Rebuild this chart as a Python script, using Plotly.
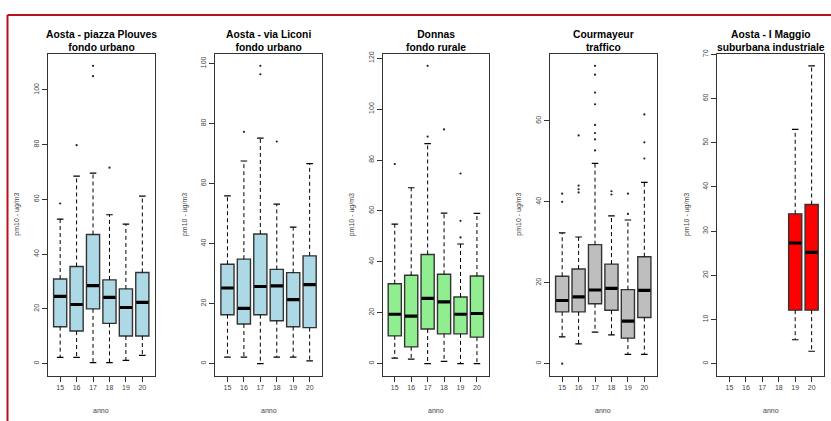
import plotly.graph_objects as go

W, H = 831, 421

years = [15, 16, 17, 18, 19, 20]
year_labels = ["15", "16", "17", "18", "19", "20"]

# --- Aosta - piazza Plouves (fondo urbano)
s1_title = "Aosta - piazza Plouves<br>fondo urbano"
s1_years = [15, 16, 17, 18, 19, 20]
s1_low = [2.3, 2.3, 0.4, 0.4, 1.2, 3.0]
s1_q1 = [13.5, 11.9, 20.0, 14.7, 10.1, 10.1]
s1_med = [24.6, 21.6, 28.5, 24.2, 20.5, 22.4]
s1_q3 = [30.9, 35.5, 47.2, 30.6, 27.3, 33.3]
s1_up = [52.8, 68.5, 69.6, 54.4, 51.0, 61.2]
s1_out_x = [15, 16, 17, 17, 18]
s1_out_y = [58.5, 79.8, 105.0, 108.8, 71.6]

# --- Aosta - via Liconi (fondo urbano)
s2_title = "Aosta - via Liconi<br>fondo urbano"
s2_years = [15, 16, 17, 18, 19, 20]
s2_low = [2.2, 2.2, 0.0, 2.2, 2.2, 0.9]
s2_q1 = [16.3, 13.2, 16.3, 14.3, 12.3, 12.0]
s2_med = [25.2, 18.4, 25.7, 25.9, 21.3, 26.3]
s2_q3 = [33.1, 34.8, 43.2, 31.4, 30.3, 35.9]
s2_up = [55.9, 67.5, 75.1, 53.1, 45.5, 66.6]
s2_out_x = [16, 17, 17, 18]
s2_out_y = [77.2, 96.4, 99.2, 74.0]

# --- Donnas (fondo rurale)
s3_title = "Donnas<br>fondo rurale"
s3_years = [15, 16, 17, 18, 19, 20]
s3_low = [2.2, 1.8, 0.0, 0.9, 0.0, 0.0]
s3_q1 = [10.9, 6.6, 13.6, 11.7, 11.7, 10.4]
s3_med = [19.4, 18.7, 25.6, 24.3, 19.4, 19.7]
s3_q3 = [31.4, 34.7, 42.9, 35.1, 26.2, 34.4]
s3_up = [54.8, 69.1, 86.4, 59.1, 47.0, 59.0]
s3_out_x = [15, 17, 17, 18, 19, 19, 19]
s3_out_y = [78.4, 89.2, 117.0, 92.0, 49.6, 56.1, 74.7]

# --- Courmayeur (traffico)
s4_title = "Courmayeur<br>traffico"
s4_years = [15, 16, 17, 18, 19, 20]
s4_low = [6.6, 4.9, 7.8, 7.1, 2.3, 2.3]
s4_q1 = [12.8, 12.8, 14.8, 13.2, 6.3, 11.4]
s4_med = [15.6, 16.5, 18.2, 18.6, 10.5, 18.1]
s4_q3 = [21.6, 23.4, 29.4, 24.6, 18.3, 26.4]
s4_up = [32.3, 31.3, 49.5, 36.5, 35.5, 44.8]
s4_out_x = [15, 15, 15, 16, 16, 16, 16,
            17, 17, 17, 17, 17, 17, 17, 17,
            18, 18, 19, 19, 20, 20, 20]
s4_out_y = [0.0, 40.0, 42.0, 42.3, 43.1, 44.0, 56.4,
            52.7, 55.4, 57.0, 59.0, 64.1, 67.0, 71.4, 73.6,
            41.8, 42.6, 37.0, 42.0, 50.7, 54.7, 61.6]

# --- Aosta - I Maggio (suburbana industriale)
s5_title = "Aosta - I Maggio<br>suburbana industriale"
s5_years = [19, 20]
s5_low = [5.4, 2.8]
s5_q1 = [12.1, 12.1]
s5_med = [27.3, 25.2]
s5_q3 = [33.9, 36.0]
s5_up = [53.0, 67.4]
s5_out_x = []
s5_out_y = []

stations = [
    (s1_title, s1_years, s1_low, s1_q1, s1_med, s1_q3, s1_up, s1_out_x, s1_out_y, "#ADD8E6", 20),
    (s2_title, s2_years, s2_low, s2_q1, s2_med, s2_q3, s2_up, s2_out_x, s2_out_y, "#ADD8E6", 20),
    (s3_title, s3_years, s3_low, s3_q1, s3_med, s3_q3, s3_up, s3_out_x, s3_out_y, "#90EE90", 20),
    (s4_title, s4_years, s4_low, s4_q1, s4_med, s4_q3, s4_up, s4_out_x, s4_out_y, "#BEBEBE", 20),
    (s5_title, s5_years, s5_low, s5_q1, s5_med, s5_q3, s5_up, s5_out_x, s5_out_y, "#FF0000", 10),
]

FONT = "Liberation Sans, Arial, Helvetica, sans-serif"
BOXW = 0.8
STAPLE = 0.2

# panel geometry in pixels
panel_left = [48, 215.3, 382.6, 550, 717.3]
panel_w = 106.5
top_px, bot_px = 49.5, 375

fig = go.Figure()
annotations = []
layout_axes = {}

for i, (title, yrs, low, q1, med, q3, up, ox, oy, col, step) in enumerate(stations):
    n = i + 1
    xa = "x" if n == 1 else f"x{n}"
    ya = "y" if n == 1 else f"y{n}"

    # whiskers (dashed)
    wx, wy = [], []
    for k, yr in enumerate(yrs):
        wx += [yr, yr, None, yr, yr, None]
        wy += [q3[k], up[k], None, q1[k], low[k], None]
    fig.add_trace(go.Scatter(x=wx, y=wy, mode="lines", xaxis=xa, yaxis=ya,
                             line=dict(color="black", width=1, dash="4px,3px"),
                             hoverinfo="skip", showlegend=False))
    # staples
    sx, sy = [], []
    for k, yr in enumerate(yrs):
        sx += [yr - STAPLE, yr + STAPLE, None, yr - STAPLE, yr + STAPLE, None]
        sy += [up[k], up[k], None, low[k], low[k], None]
    fig.add_trace(go.Scatter(x=sx, y=sy, mode="lines", xaxis=xa, yaxis=ya,
                             line=dict(color="black", width=1.2),
                             hoverinfo="skip", showlegend=False))
    # boxes
    fig.add_trace(go.Box(x=yrs, q1=q1, median=med, q3=q3,
                         lowerfence=q1, upperfence=q3,
                         width=BOXW, whiskerwidth=0,
                         fillcolor=col, line=dict(color="#333333", width=1.4),
                         boxpoints=False, xaxis=xa, yaxis=ya,
                         hoverinfo="skip", showlegend=False))
    # medians (thick)
    mx, my = [], []
    for k, yr in enumerate(yrs):
        mx += [yr - BOXW / 2 + 0.03, yr + BOXW / 2 - 0.03, None]
        my += [med[k], med[k], None]
    fig.add_trace(go.Scatter(x=mx, y=my, mode="lines", xaxis=xa, yaxis=ya,
                             line=dict(color="black", width=3.2),
                             hoverinfo="skip", showlegend=False))
    # outliers
    if ox:
        fig.add_trace(go.Scatter(x=ox, y=oy, mode="markers", xaxis=xa, yaxis=ya,
                                 marker=dict(color="#222222", size=2.2),
                                 hoverinfo="skip", showlegend=False))

    ymax = max(max(up), max(oy) if oy else 0)
    x0 = panel_left[i] / W
    x1 = (panel_left[i] + panel_w) / W
    y0 = 1 - bot_px / H
    y1 = 1 - top_px / H

    axcommon = dict(showline=True, mirror=True, linecolor="#333333", linewidth=1.2,
                    ticks="outside", ticklen=5, tickcolor="#333333", tickwidth=1,
                    showgrid=False, zeroline=False,
                    tickfont=dict(family=FONT, size=7, color="#444444"))
    layout_axes["xaxis" if n == 1 else f"xaxis{n}"] = dict(
        domain=[x0, x1], anchor=ya, range=[min(years) - 0.74, max(years) + 0.74],
        tickmode="array", tickvals=years, ticktext=year_labels, **axcommon)
    layout_axes["yaxis" if n == 1 else f"yaxis{n}"] = dict(
        domain=[y0, y1], anchor=xa, range=[-0.04 * ymax, 1.04 * ymax],
        tick0=0, dtick=step, tickangle=-90, **axcommon)

    cx = (panel_left[i] + panel_w / 2) / W
    annotations.append(dict(text="<b>" + title.replace("<br>", "</b><br><b>") + "</b>",
                            x=cx, y=1 - 36 / H, xref="paper", yref="paper",
                            xanchor="center", yanchor="middle", showarrow=False,
                            font=dict(family=FONT, size=10.3, color="black")))
    annotations.append(dict(text="pm10 - ug/m3", x=(panel_left[i] - 31) / W,
                            y=1 - ((top_px + bot_px) / 2) / H, xref="paper", yref="paper",
                            xanchor="center", yanchor="middle", textangle=-90,
                            showarrow=False, font=dict(family=FONT, size=7, color="#444444")))
    annotations.append(dict(text="anno", x=cx, y=1 - 410 / H, xref="paper", yref="paper",
                            xanchor="center", yanchor="middle", showarrow=False,
                            font=dict(family=FONT, size=7, color="#444444")))

shapes = [
    dict(type="line", xref="paper", yref="paper", x0=7.5 / W, x1=7.5 / W,
         y0=0, y1=1 - 10 / H, line=dict(color="#B5121B", width=2)),
    dict(type="line", xref="paper", yref="paper", x0=7.5 / W, x1=1,
         y0=1 - 10 / H, y1=1 - 10 / H, line=dict(color="#B5121B", width=2)),
]

fig.update_layout(width=W, height=H, margin=dict(l=0, r=0, t=0, b=0),
                  paper_bgcolor="white", plot_bgcolor="white",
                  showlegend=False, annotations=annotations, shapes=shapes,
                  **layout_axes)

fig.write_html("out.html", config={"displayModeBar": False},
               post_script="document.body.style.margin='0';document.body.style.overflow='hidden';")
